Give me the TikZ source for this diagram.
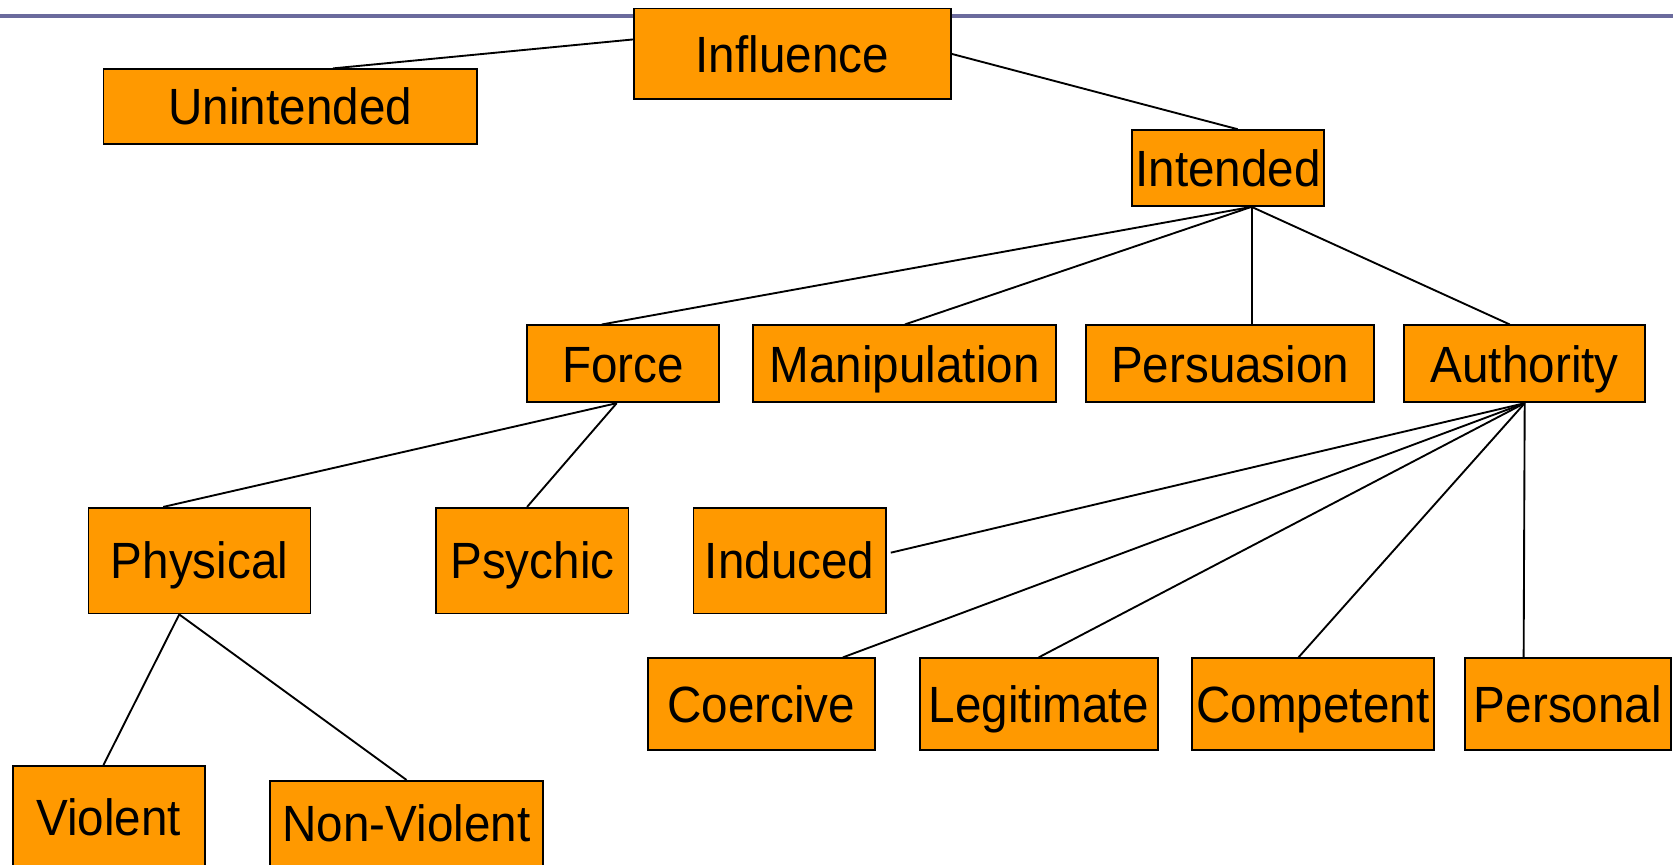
\documentclass[tikz,border=0pt]{standalone}
\usepackage{fontspec}
\setmainfont{Liberation Sans}
\usetikzlibrary{calc}
\definecolor{boxorange}{HTML}{FF9900}
\definecolor{rulecol}{HTML}{6B6B9D}
\newcommand{\vst}[1]{\scalebox{1}[1.07]{#1}}
\tikzset{
  box/.style={draw=black, line width=0.5pt, fill=boxorange, inner sep=0pt, rectangle,
    font=\fontsize{12.7pt}{15pt}\selectfont, text height=9.7pt, text depth=0pt},
  bigtxt/.style={inner sep=0pt, font=\fontsize{12.7pt}{15pt}\selectfont, text height=9.7pt, text depth=0pt},
  link/.style={draw=black, line width=0.5pt},
  toprule/.style={draw=rulecol, line width=1.0pt}
}
\begin{document}
\begin{tikzpicture}
\useasboundingbox (0,0) rectangle (15.68,-8.107);
\coordinate (hl) at (0,-0.15);
\coordinate (hr) at (15.68,-0.15);
\draw[toprule] (hl) -- (hr);

% nodes
\node[box, minimum width=2.97cm, minimum height=0.85cm] (inf) at (7.425,-0.505) {\vst{Influence}};
\node[box, minimum width=3.50cm, minimum height=0.70cm] (unint) at (2.72,-1.00) {\vst{Unintended}};
\node[box, minimum width=1.80cm, minimum height=0.71cm] (intd) at (11.51,-1.575) {\vst{Intended}};

\node[box, minimum width=1.80cm, minimum height=0.72cm] (force) at (5.84,-3.41) {\vst{Force}};
\node[box, minimum width=2.84cm, minimum height=0.72cm] (manip) at (8.48,-3.41) {\vst{Manipulation}};
\node[box, minimum width=2.70cm, minimum height=0.72cm] (pers) at (11.53,-3.41) {\vst{Persuasion}};
\node[box, minimum width=2.26cm, minimum height=0.72cm] (auth) at (14.29,-3.41) {\vst{Authority}};

\node[box, minimum width=2.08cm, minimum height=0.99cm] (phys) at (1.87,-5.255) {\vst{Physical}};
\node[box, minimum width=1.80cm, minimum height=0.99cm] (psych) at (4.99,-5.255) {\vst{Psychic}};
\node[box, minimum width=1.80cm, minimum height=0.99cm] (induc) at (7.40,-5.255) {\vst{Induced}};

\node[box, minimum width=2.13cm, minimum height=0.86cm] (coer) at (7.135,-6.60) {\vst{Coercive}};
\node[box, minimum width=2.23cm, minimum height=0.86cm] (legit) at (9.735,-6.60) {\vst{Legitimate}};
\node[box, minimum width=2.27cm, minimum height=0.86cm] (comp) at (12.305,-6.60) {\vst{Competent}};
\node[box, minimum width=1.93cm, minimum height=0.86cm] (persn) at (14.695,-6.60) {\vst{Personal}};

\node[box, anchor=north, minimum width=1.80cm, minimum height=1.40cm] (viol) at (1.02,-7.17) {};
\node[bigtxt] (violt) at (1.02,-7.66) {\vst{Violent}};
\node[box, anchor=north, minimum width=2.56cm, minimum height=1.40cm] (nonv) at (3.81,-7.31) {};
\node[bigtxt] (nonvt) at (3.81,-7.72) {\vst{Non-Violent}};

% connectors
\draw[link] ($(inf.west)+(0,0.135)$) -- ($(unint.north)+(0.40,0)$);
\draw[link] (inf.east) -- ($(intd.north)+(0.09,0)$);

\draw[link] ($(intd.south)+(0.22,0)$) -- ($(force.north)+(-0.20,0)$);
\draw[link] ($(intd.south)+(0.22,0)$) -- (manip.north);
\draw[link] ($(intd.south)+(0.22,0)$) -- ($(pers.north)+(0.20,0)$);
\draw[link] ($(intd.south)+(0.22,0)$) -- ($(auth.north)+(-0.14,0)$);

\draw[link] ($(force.south)+(-0.06,0)$) -- ($(phys.north)+(-0.34,0)$);
\draw[link] ($(force.south)+(-0.06,0)$) -- ($(psych.north)+(-0.05,0)$);

\draw[link] ($(phys.south)+(-0.19,0)$) -- ($(viol.north)+(-0.05,0)$);
\draw[link] ($(phys.south)+(-0.19,0)$) -- (nonv.north);

\draw[link] (auth.south) -- ($(induc.east)+(0.04,0.075)$);
\draw[link] (auth.south) -- ($(coer.north)+(0.765,0)$);
\draw[link] (auth.south) -- (legit.north);
\draw[link] (auth.south) -- ($(comp.north)+(-0.135,0)$);
\draw[link] (auth.south) -- ($(persn.north)+(-0.415,0)$);
\end{tikzpicture}
\end{document}
